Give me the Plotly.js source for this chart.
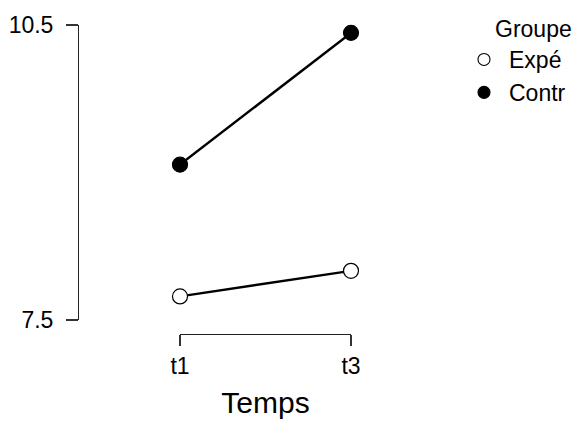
<!DOCTYPE html>
<html>
<head>
<meta charset="utf-8">
<script src="https://cdn.plot.ly/plotly-3.0.1.min.js"></script>
<style>html,body{margin:0;padding:0;background:#fff;}</style>
</head>
<body>
<div id="chart" style="width:586px;height:421px;"></div>
<script>
const temps = ['t1', 't3'];
const groupes = ['Expé', 'Contr'];
const expe = [7.74, 8.00];
const contr = [9.08, 10.42];
const yTicks = [7.5, 10.5];
const yTickText = ['7.5', '10.5'];
const legendTitle = 'Groupe';
const xTitle = 'Temps';

const FONT = 'Liberation Sans, Arial, sans-serif';

const traces = [
  {x: temps, y: expe, type: 'scatter', mode: 'lines+markers', showlegend: false, cliponaxis: false,
   line: {color: '#000', width: 2.4},
   marker: {symbol: 'circle', size: 15, color: '#fff', line: {color: '#000', width: 1.2}}},
  {x: temps, y: contr, type: 'scatter', mode: 'lines+markers', showlegend: false, cliponaxis: false,
   line: {color: '#000', width: 2.4},
   marker: {symbol: 'circle', size: 15, color: '#000', line: {color: '#000', width: 1.2}}},
  {x: [null], y: [null], type: 'scatter', mode: 'markers', name: groupes[0], legendgroup: 'a',
   marker: {symbol: 'circle', size: 12, color: '#fff', line: {color: '#000', width: 1.1}}},
  {x: [null], y: [null], type: 'scatter', mode: 'markers', name: groupes[1], legendgroup: 'b',
   marker: {symbol: 'circle', size: 12, color: '#000', line: {color: '#000', width: 1.1}}}
];

const layout = {
  width: 586, height: 421,
  margin: {l: 78, r: 235, t: 25, b: 87, pad: 0},
  paper_bgcolor: '#fff', plot_bgcolor: '#fff',
  font: {family: FONT, color: '#000'},
  showlegend: true,
  legend: {
    xref: 'container', yref: 'container',
    x: 474 / 586, y: 1 - 38 / 421, xanchor: 'left', yanchor: 'top',
    font: {size: 23, family: FONT, color: '#000'},
    itemwidth: 40,
    indentation: -15,
    tracegroupgap: 0,
    bgcolor: 'rgba(0,0,0,0)', borderwidth: 0
  },
  annotations: [{
    text: legendTitle, showarrow: false,
    xref: 'paper', yref: 'paper',
    x: (493 - 78) / 273, y: (334 - 29) / 309,
    xanchor: 'left', yanchor: 'middle',
    font: {size: 23, family: FONT, color: '#000'}
  }],
  xaxis: {
    type: 'category', range: [0, 1], domain: [102 / 273, 1],
    anchor: 'free', position: 0,
    showline: true, linecolor: '#222', linewidth: 1.3,
    ticks: 'outside', ticklen: 11, tickcolor: '#333', tickwidth: 1.3,
    showgrid: false, zeroline: false,
    tickfont: {size: 23, family: FONT, color: '#000'},
    ticklabelstandoff: 0,
    title: {text: xTitle, font: {size: 30, family: FONT, color: '#000'}, standoff: 14}
  },
  yaxis: {
    range: [7.5, 10.5], domain: [14 / 309, 1],
    anchor: 'free', position: 0,
    showline: true, linecolor: '#222', linewidth: 1.3,
    ticks: 'outside', ticklen: 12, tickcolor: '#333', tickwidth: 1.3,
    tickvals: yTicks, ticktext: yTickText,
    showgrid: false, zeroline: false,
    tickfont: {size: 23, family: FONT, color: '#000'},
    ticklabelstandoff: 8
  }
};

Plotly.newPlot('chart', traces, layout, {displayModeBar: false, staticPlot: true});
</script>
</body>
</html>
